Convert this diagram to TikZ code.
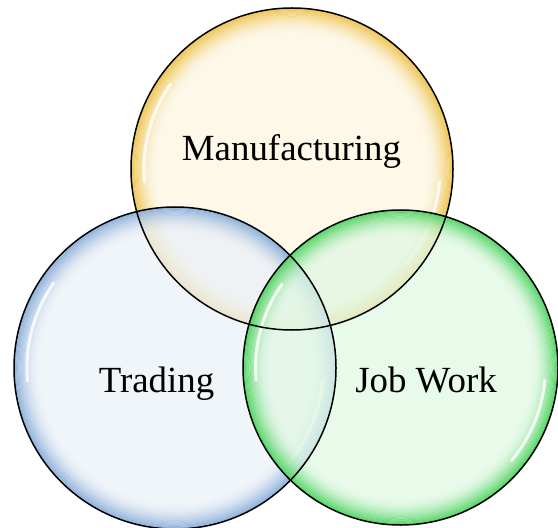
\documentclass[tikz,border=0pt]{standalone}
\usepackage{fontspec}
\setmainfont{Liberation Serif}
\usetikzlibrary{positioning}

\definecolor{goldrim}{HTML}{EDBE3C}
\definecolor{bluerim}{HTML}{7FA7D6}
\definecolor{greenrim}{HTML}{3FD052}

\begin{document}
\begin{tikzpicture}[x=1bp,y=-1bp,
	bubble/.style={circle, minimum size=2*#1*1bp, inner sep=0pt},
	venntext/.style={font=\fontsize{37}{40}\selectfont, anchor=base},
	gloss/.style={white, line width=3bp, opacity=.8, line cap=round}]
	\useasboundingbox (0,0) rectangle (558,528);
	\node[bubble=161] (manufacturing) at (292,169) {};
	\node[bubble=161] (trading) at (175,368) {};
	\node[bubble=157.5] (jobwork) at (400.5,367.5) {};
	% glossy fill and coloured rim
	\foreach \c/\col/\r in {manufacturing/goldrim/161,trading/bluerim/161,jobwork/greenrim/157.5}{
		\fill[\col!16!white, fill opacity=.75] (\c.center) circle[radius=\r*1bp];
		\foreach \k [evaluate=\k as \op using {0.85*(1-\k/24)^2}] in {0,...,23}
			\draw[\col, line width=1.2bp, draw opacity=\op] (\c.center) circle[radius=\r*1bp-0.5bp-\k*1.1bp];
		\draw[gloss] (\c.center) ++(145:\r*0.92bp) arc[start angle=145, end angle=185, radius=\r*0.92bp];
		\draw[gloss] (\c.center) ++(-40:\r*0.92bp) arc[start angle=-40, end angle=-5, radius=\r*0.92bp];}
	\foreach \c/\r in {manufacturing/161,trading/161,jobwork/157.5}
		\draw[black, line width=1.5bp] (\c.center) circle[radius=\r*1bp];
	\node[venntext] (mtext) at (291.5,161) {Manufacturing};
	\node[venntext] (ttext) at (156.5,392) {Trading};
	\node[venntext] (jtext) at (426,392) {Job Work};
\end{tikzpicture}
\end{document}
